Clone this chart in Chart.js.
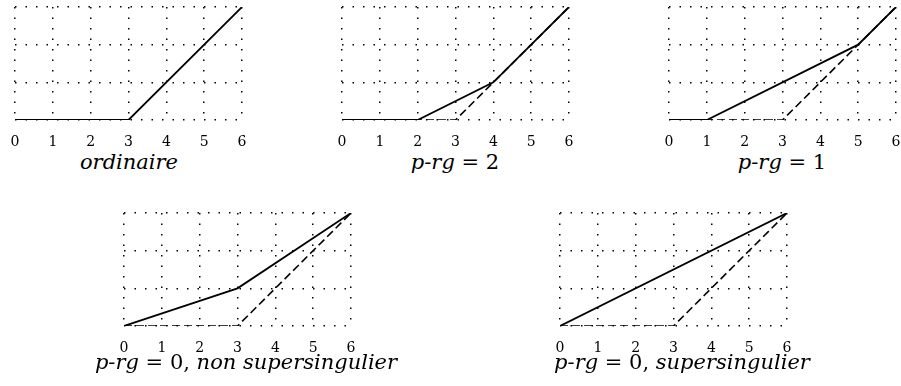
<!DOCTYPE html>
<html>
<head>
<meta charset="utf-8">
<script src="https://cdn.jsdelivr.net/npm/chart.js@4.4.0/dist/chart.umd.min.js"></script>
<style>
  body { margin: 0; background: #fff; width: 901px; height: 386px; position: relative; overflow: hidden; }
  .box { position: absolute; }
  .cap { position: absolute; font-family: 'DejaVu Serif', serif; font-size: 21px; color: #000; white-space: nowrap; transform: translateX(-50%); line-height: 1; }
  .cap i { font-style: italic; }
</style>
</head>
<body>
<script>
// x ticks 0..6, y grid 0..3
const xTicks = [0, 1, 2, 3, 4, 5, 6];
const yTicks = [0, 1, 2, 3];

// dashed reference polygon (ordinaire)
const ordX = [0, 3, 6];
const ordY = [0, 0, 3];

// solid polygons
const ordinaireX = [0, 3, 6];
const ordinaireY = [0, 0, 3];
const prg2X = [0, 2, 4, 6];
const prg2Y = [0, 0, 1, 3];
const prg1X = [0, 1, 5, 6];
const prg1Y = [0, 0, 2, 3];
const nonSsX = [0, 3, 6];
const nonSsY = [0, 1, 3];
const ssX = [0, 6];
const ssY = [0, 3];

const captions = [
    '<i>ordinaire</i>',
    '<i>p-rg</i> = 2',
    '<i>p-rg</i> = 1',
    '<i>p-rg</i> = 0, <i>non supersingulier</i>',
    '<i>p-rg</i> = 0, <i>supersingulier</i>'
];

const PADX = 24, PADT = 4, AXIS_H = 30;
const PW = 227, PH = 113;

const panels = [
    { x: 15,  y: 7,   sx: ordinaireX, sy: ordinaireY, dashed: false, cx: 129, cy: 152 },
    { x: 342, y: 7,   sx: prg2X, sy: prg2Y, dashed: true, cx: 455, cy: 152 },
    { x: 669, y: 7,   sx: prg1X, sy: prg1Y, dashed: true, cx: 782, cy: 152 },
    { x: 124, y: 213, sx: nonSsX, sy: nonSsY, dashed: true, cx: 246, cy: 352 },
    { x: 560, y: 213, sx: ssX, sy: ssY, dashed: true, cx: 682, cy: 352 }
];

function pts(xs, ys) {
    return xs.map((x, i) => ({ x: x, y: ys[i] }));
}

panels.forEach((p, i) => {
    const div = document.createElement('div');
    div.className = 'box';
    div.style.left = (p.x - PADX) + 'px';
    div.style.top = (p.y - PADT) + 'px';
    const cv = document.createElement('canvas');
    cv.width = PW + 2 * PADX;
    cv.height = PH + PADT + AXIS_H;
    div.appendChild(cv);
    document.body.appendChild(div);

    const cap = document.createElement('div');
    cap.className = 'cap';
    cap.style.left = p.cx + 'px';
    cap.style.top = p.cy + 'px';
    cap.innerHTML = captions[i];
    document.body.appendChild(cap);

    const datasets = [{
        data: pts(p.sx, p.sy),
        borderColor: '#000',
        borderWidth: 1.8,
        pointRadius: 0,
        order: 0
    }];
    if (p.dashed) {
        datasets.push({
            data: pts(ordX, ordY),
            borderColor: '#000',
            borderWidth: 1.6,
            borderDash: [8, 4],
            pointRadius: 0,
            order: 1
        });
    }

    new Chart(cv, {
        type: 'line',
        data: { datasets: datasets },
        options: {
            responsive: false,
            animation: false,
            devicePixelRatio: 1,
            layout: { padding: { left: PADX, right: PADX, top: PADT, bottom: 0 } },
            plugins: { legend: { display: false }, tooltip: { enabled: false } },
            scales: {
                x: {
                    type: 'linear',
                    min: 0, max: 6,
                    afterBuildTicks: s => { s.ticks = xTicks.map(v => ({ value: v })); },
                    afterFit: s => { s.height = AXIS_H; },
                    border: { display: false, dash: [1.5, 9] },
                    grid: { color: '#000', lineWidth: 1.5, drawTicks: false },
                    ticks: { color: '#000', padding: 14, maxRotation: 0, font: { family: 'DejaVu Serif', size: 14 } }
                },
                y: {
                    min: 0, max: 3,
                    afterBuildTicks: s => { s.ticks = yTicks.map(v => ({ value: v })); },
                    afterFit: s => { s.width = 0; },
                    border: { display: false, dash: [1.5, 9] },
                    grid: { color: '#000', lineWidth: 1.5, drawTicks: false },
                    ticks: { display: false }
                }
            }
        }
    });
});
</script>
</body>
</html>
